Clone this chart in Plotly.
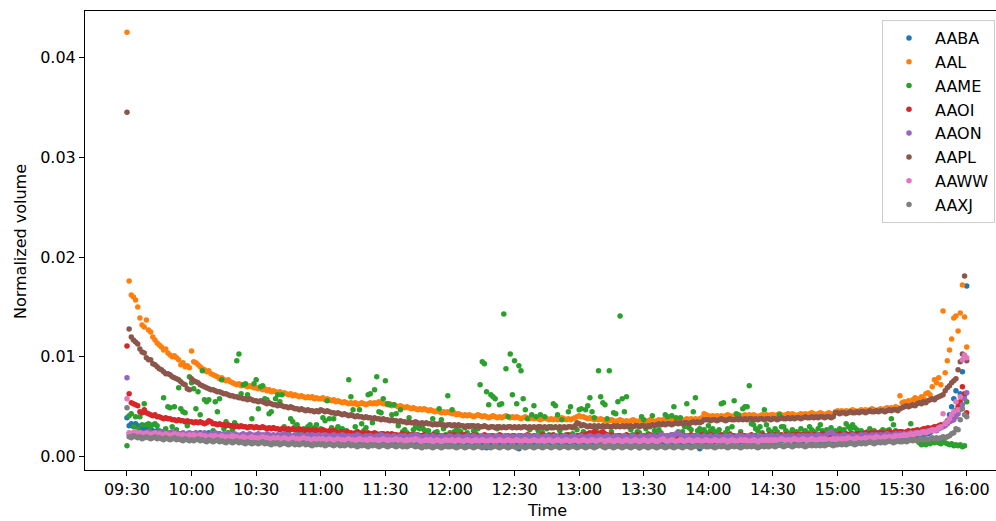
import numpy as np
import pandas as pd
import plotly.graph_objects as go

# one point per minute, 09:30 .. 16:00 (391 points)
times = pd.date_range("2019-01-02 09:30", "2019-01-02 16:00", freq="min")

# values, in units of 1e-4 (normalized volume)
UNIT = 1e-4

AABA = [
    39, 31, 33, 32, 33, 31, 30, 29, 28, 28, 27, 27, 26, 25, 26, 25, 24, 25, 24, 23, 24, 23, 24, 23, 22, 23, 22, 21, 22, 21,
    22, 23, 22, 23, 24, 23, 22, 23, 24, 22, 23, 22, 21, 23, 20, 21, 19, 20, 19, 18, 19, 20, 18, 19, 18, 17, 19, 18, 17, 18,
    18, 17, 18, 19, 17, 18, 16, 17, 18, 17, 16, 18, 17, 16, 17, 18, 16, 17, 16, 17, 18, 16, 17, 15, 16, 17, 16, 15, 17, 16,
    16, 17, 15, 16, 17, 16, 15, 16, 17, 15, 16, 15, 16, 17, 15, 16, 15, 14, 16, 15, 16, 15, 14, 15, 16, 15, 14, 15, 16, 15,
    15, 14, 15, 16, 15, 14, 15, 16, 14, 15, 14, 15, 16, 15, 14, 15, 14, 15, 16, 14, 15, 14, 15, 14, 16, 15, 14, 15, 14, 15,
    14, 15, 14, 15, 14, 15, 16, 14, 15, 14, 15, 14, 15, 13, 14, 12, 10, 9, 11, 14, 15, 14, 13, 15, 14, 15, 14, 13, 14, 15,
    14, 13, 8, 12, 14, 15, 14, 13, 14, 15, 14, 13, 14, 15, 14, 13, 14, 15, 13, 14, 15, 14, 13, 14, 15, 14, 13, 14, 15, 14,
    14, 15, 14, 13, 14, 15, 14, 13, 14, 15, 13, 14, 15, 14, 13, 14, 15, 14, 13, 14, 15, 14, 13, 14, 15, 14, 13, 14, 9, 13,
    14, 15, 14, 13, 14, 15, 14, 13, 14, 15, 14, 13, 14, 15, 14, 13, 14, 15, 14, 13, 14, 15, 14, 13, 14, 15, 8, 13, 14, 15,
    14, 15, 14, 15, 16, 15, 14, 15, 16, 15, 14, 15, 16, 15, 14, 15, 16, 15, 14, 15, 16, 15, 14, 15, 16, 15, 14, 15, 16, 15,
    15, 16, 15, 16, 17, 16, 15, 16, 17, 16, 15, 16, 17, 16, 15, 16, 17, 16, 15, 16, 17, 16, 15, 16, 17, 16, 15, 16, 17, 16,
    16, 17, 16, 17, 18, 17, 16, 17, 18, 17, 16, 17, 18, 17, 18, 17, 18, 19, 18, 17, 18, 19, 18, 19, 20, 19, 18, 19, 20, 19,
    20, 19, 20, 21, 20, 21, 22, 21, 22, 23, 22, 24, 23, 24, 28, 29, 30, 29, 31, 31, 33, 36, 42, 50, 58, 66, 54, 63, 85, 62,
    171,
]

AAL = [
    425, 176, 162, 160, 157, 150, 139, 132, 130, 137, 127, 125, 120, 117, 114, 112, 110, 107, 108, 104, 102, 100, 101, 99, 97, 92, 94, 90, 91, 89,
    106, 95, 94, 92, 90, 88, 87, 85, 86, 83, 82, 81, 80, 78, 79, 77, 76, 77, 75, 74, 73, 72, 73, 71, 72, 71, 70, 71, 70, 69,
    69, 68, 69, 67, 68, 66, 67, 65, 66, 65, 64, 65, 63, 64, 63, 62, 63, 61, 62, 61, 60, 61, 60, 59, 60, 59, 60, 58, 59, 58,
    58, 59, 57, 58, 57, 56, 57, 55, 56, 55, 54, 55, 54, 53, 54, 53, 54, 52, 53, 54, 53, 52, 53, 54, 53, 54, 53, 55, 54, 53,
    53, 52, 53, 51, 52, 51, 50, 51, 50, 49, 50, 49, 48, 49, 48, 47, 48, 47, 48, 47, 46, 47, 46, 45, 46, 45, 44, 45, 44, 45,
    44, 43, 44, 42, 43, 42, 41, 42, 41, 42, 41, 40, 41, 42, 41, 40, 41, 40, 39, 40, 41, 40, 39, 40, 39, 40, 41, 40, 39, 40,
    39, 40, 39, 38, 39, 40, 39, 38, 39, 38, 39, 38, 37, 38, 39, 38, 37, 38, 37, 38, 37, 38, 39, 38, 37, 38, 37, 38, 39, 40,
    41, 40, 40, 39, 38, 39, 38, 37, 38, 37, 38, 37, 36, 37, 36, 37, 36, 35, 36, 37, 36, 35, 36, 35, 36, 37, 36, 35, 36, 35,
    36, 35, 36, 37, 36, 35, 36, 37, 36, 37, 36, 37, 38, 37, 36, 37, 38, 37, 36, 37, 38, 37, 38, 37, 38, 37, 38, 39, 43, 42,
    41, 40, 41, 40, 41, 40, 41, 40, 41, 42, 41, 40, 41, 42, 41, 40, 41, 42, 41, 42, 41, 42, 41, 40, 41, 42, 41, 42, 41, 42,
    42, 41, 42, 43, 42, 41, 42, 43, 42, 43, 42, 41, 42, 43, 42, 43, 42, 43, 44, 43, 42, 43, 44, 43, 42, 43, 44, 43, 42, 45,
    46, 45, 46, 45, 46, 45, 46, 47, 46, 45, 46, 47, 46, 47, 46, 47, 48, 47, 46, 47, 48, 47, 48, 49, 48, 49, 48, 50, 49, 61,
    54, 55, 53, 56, 54, 57, 59, 56, 58, 60, 58, 63, 64, 62, 70, 77, 74, 79, 72, 146, 84, 96, 107, 118, 139, 141, 126, 144, 172, 140,
    110,
]

AAME = [
    11, 41, 43, 30, 40, 28, 40, 32, 53, 32, 33, 30, 32, 33, 31, 26, 24, 59, 28, 50, 49, 30, 50, 27, 69, 48, 45, 44, 31, 80,
    74, 68, 48, 65, 42, 86, 57, 55, 57, 22, 26, 55, 45, 58, 77, 28, 35, 24, 31, 27, 34, 96, 103, 63, 72, 73, 62, 30, 38, 73,
    77, 48, 70, 71, 58, 57, 43, 45, 29, 58, 62, 55, 62, 30, 27, 25, 38, 35, 30, 32, 24, 26, 28, 22, 30, 32, 25, 29, 32, 24,
    28, 39, 36, 56, 38, 29, 38, 27, 30, 24, 28, 22, 26, 77, 60, 47, 30, 25, 47, 33, 26, 29, 62, 63, 34, 67, 80, 45, 44, 58,
    76, 53, 52, 42, 52, 43, 31, 47, 25, 27, 24, 39, 22, 27, 31, 29, 28, 30, 27, 23, 26, 21, 38, 24, 25, 48, 37, 28, 22, 61,
    24, 47, 25, 27, 26, 25, 22, 29, 24, 31, 21, 26, 23, 28, 72, 95, 93, 65, 52, 62, 60, 58, 28, 52, 53, 143, 88, 40, 103, 62,
    96, 53, 91, 86, 58, 47, 38, 27, 42, 51, 40, 26, 42, 24, 40, 28, 22, 30, 53, 51, 42, 26, 37, 29, 22, 45, 50, 23, 31, 27,
    47, 48, 25, 47, 51, 59, 45, 39, 28, 86, 60, 54, 52, 38, 86, 25, 44, 43, 55, 141, 58, 45, 60, 30, 27, 22, 31, 25, 24, 40,
    37, 28, 23, 30, 41, 26, 22, 27, 24, 21, 42, 40, 20, 41, 50, 39, 25, 39, 25, 30, 53, 29, 27, 45, 59, 26, 28, 24, 27, 24,
    31, 26, 28, 25, 23, 27, 53, 54, 24, 28, 23, 30, 56, 43, 42, 25, 48, 50, 50, 71, 33, 32, 28, 26, 30, 24, 47, 32, 27, 25,
    23, 28, 25, 42, 30, 30, 26, 24, 23, 27, 23, 25, 23, 28, 23, 26, 24, 30, 27, 25, 23, 28, 32, 26, 24, 27, 25, 29, 24, 26,
    23, 28, 25, 27, 33, 30, 28, 32, 29, 27, 24, 26, 22, 23, 25, 28, 23, 26, 22, 24, 25, 27, 24, 26, 27, 38, 32, 26, 23, 25,
    22, 24, 21, 23, 33, 20, 18, 16, 14, 12, 13, 12, 14, 13, 15, 14, 15, 14, 13, 15, 14, 13, 12, 13, 11, 12, 11, 12, 10, 11,
    55,
]

AAOI = [
    111, 63, 54, 53, 52, 51, 45, 44, 47, 44, 43, 42, 41, 42, 40, 40, 39, 38, 39, 38, 38, 37, 37, 36, 37, 36, 36, 35, 36, 35,
    35, 34, 35, 34, 35, 34, 33, 34, 36, 35, 33, 33, 32, 33, 32, 32, 31, 32, 31, 31, 30, 31, 30, 31, 30, 30, 29, 30, 30, 29,
    30, 29, 29, 30, 29, 28, 29, 28, 29, 28, 28, 27, 28, 28, 27, 28, 27, 28, 27, 27, 28, 27, 26, 27, 27, 26, 27, 26, 27, 26,
    26, 27, 26, 25, 26, 25, 26, 25, 24, 25, 25, 24, 25, 24, 24, 23, 24, 25, 24, 23, 24, 23, 24, 23, 23, 24, 23, 22, 23, 23,
    22, 23, 22, 23, 22, 22, 21, 22, 23, 22, 21, 22, 21, 22, 21, 22, 21, 21, 22, 21, 20, 21, 22, 21, 20, 21, 21, 20, 21, 20,
    22, 21, 22, 21, 21, 22, 21, 22, 21, 20, 21, 22, 21, 21, 20, 21, 22, 21, 20, 21, 21, 20, 21, 22, 21, 20, 21, 21, 20, 21,
    21, 20, 21, 21, 20, 21, 22, 21, 20, 21, 21, 20, 21, 22, 21, 20, 21, 21, 22, 21, 20, 21, 21, 20, 21, 22, 21, 21, 20, 21,
    21, 22, 21, 22, 23, 24, 23, 25, 24, 23, 24, 25, 23, 22, 21, 22, 21, 20, 21, 21, 20, 21, 22, 21, 20, 21, 21, 22, 21, 20,
    21, 20, 21, 22, 21, 21, 20, 21, 22, 21, 20, 21, 21, 22, 21, 20, 21, 22, 21, 21, 20, 21, 22, 21, 21, 20, 21, 22, 21, 21,
    21, 22, 21, 20, 21, 21, 22, 21, 20, 21, 22, 21, 21, 20, 21, 22, 21, 21, 20, 21, 22, 21, 21, 20, 21, 22, 21, 21, 22, 21,
    21, 22, 21, 21, 22, 21, 22, 21, 21, 22, 21, 22, 22, 21, 22, 21, 22, 22, 21, 22, 22, 21, 22, 23, 22, 21, 22, 23, 22, 22,
    22, 23, 22, 22, 23, 22, 23, 23, 22, 23, 23, 22, 23, 24, 23, 23, 24, 23, 24, 23, 24, 24, 23, 24, 25, 24, 24, 25, 24, 25,
    25, 24, 25, 26, 25, 26, 26, 27, 26, 27, 28, 28, 29, 28, 29, 30, 29, 31, 32, 31, 33, 35, 37, 40, 43, 46, 50, 55, 70, 63,
    44,
]

AAON = [
    79, 23, 22, 24, 23, 22, 23, 24, 22, 23, 25, 24, 23, 22, 24, 23, 25, 24, 23, 22, 24, 25, 23, 24, 22, 23, 24, 22, 23, 24,
    23, 22, 24, 23, 22, 23, 24, 22, 21, 23, 22, 24, 23, 22, 21, 23, 22, 23, 21, 22, 23, 22, 21, 22, 23, 21, 22, 23, 22, 21,
    22, 23, 21, 22, 21, 23, 22, 21, 22, 20, 22, 21, 22, 23, 21, 22, 20, 21, 22, 21, 20, 22, 21, 20, 22, 21, 22, 20, 21, 22,
    21, 20, 22, 21, 20, 21, 22, 20, 21, 20, 22, 21, 20, 21, 19, 21, 20, 22, 21, 20, 19, 21, 20, 21, 20, 19, 21, 20, 22, 21,
    20, 21, 19, 20, 21, 20, 19, 21, 20, 21, 19, 20, 21, 20, 22, 21, 20, 19, 20, 21, 20, 19, 21, 20, 19, 20, 21, 20, 19, 20,
    21, 20, 19, 20, 21, 20, 19, 20, 21, 19, 20, 21, 20, 19, 20, 21, 20, 19, 21, 20, 19, 20, 21, 20, 19, 20, 21, 20, 19, 20,
    20, 19, 21, 20, 19, 20, 21, 20, 19, 20, 21, 20, 19, 20, 20, 21, 20, 19, 20, 21, 20, 19, 20, 21, 20, 19, 20, 21, 20, 19,
    20, 21, 20, 19, 20, 21, 20, 19, 20, 21, 20, 19, 20, 21, 20, 19, 20, 21, 20, 19, 20, 21, 20, 19, 20, 21, 20, 19, 20, 21,
    20, 19, 20, 21, 20, 21, 19, 20, 22, 21, 20, 21, 20, 22, 21, 23, 24, 22, 21, 20, 21, 19, 20, 21, 20, 21, 20, 19, 21, 20,
    20, 21, 19, 20, 21, 20, 20, 19, 21, 20, 21, 20, 19, 20, 21, 21, 20, 19, 20, 21, 20, 21, 19, 20, 21, 20, 19, 21, 20, 21,
    21, 20, 21, 20, 19, 21, 20, 21, 20, 21, 20, 19, 21, 20, 21, 20, 21, 20, 21, 20, 21, 22, 21, 20, 21, 22, 24, 25, 23, 21,
    21, 20, 21, 22, 21, 20, 21, 22, 21, 20, 21, 22, 21, 22, 21, 20, 22, 21, 22, 21, 22, 21, 22, 23, 22, 21, 22, 23, 22, 23,
    22, 23, 22, 23, 24, 23, 24, 23, 24, 25, 24, 25, 26, 25, 26, 27, 26, 28, 29, 30, 31, 33, 35, 36, 37, 40, 43, 47, 52, 58,
    64,
]

AAPL = [
    345, 128, 120, 117, 115, 113, 108, 105, 104, 99, 97, 97, 93, 92, 90, 88, 87, 85, 83, 83, 82, 80, 79, 78, 77, 75, 73, 72, 68, 67,
    78, 76, 75, 74, 72, 71, 70, 69, 68, 67, 67, 66, 65, 65, 64, 63, 63, 62, 61, 61, 60, 60, 59, 59, 58, 58, 57, 58, 57, 56,
    56, 55, 56, 55, 54, 53, 54, 53, 52, 52, 51, 52, 51, 50, 50, 49, 50, 49, 48, 48, 47, 48, 47, 46, 47, 46, 46, 45, 46, 45,
    47, 46, 45, 46, 45, 44, 44, 43, 44, 43, 42, 43, 42, 41, 42, 41, 40, 41, 40, 40, 39, 40, 39, 39, 38, 39, 38, 38, 37, 38,
    37, 37, 36, 37, 36, 36, 35, 36, 35, 35, 34, 35, 34, 34, 35, 34, 33, 34, 33, 34, 33, 33, 32, 33, 32, 33, 32, 32, 31, 32,
    32, 31, 32, 31, 32, 31, 31, 30, 31, 30, 31, 31, 30, 31, 30, 30, 31, 30, 29, 30, 30, 29, 30, 30, 29, 30, 29, 30, 30, 29,
    30, 29, 30, 29, 30, 30, 29, 30, 29, 30, 29, 30, 30, 29, 30, 29, 30, 29, 29, 30, 29, 30, 29, 30, 29, 30, 30, 29, 30, 34,
    33, 31, 32, 31, 30, 31, 30, 31, 30, 31, 30, 31, 30, 31, 30, 30, 31, 30, 31, 30, 31, 30, 31, 30, 31, 30, 31, 31, 30, 31,
    31, 30, 31, 31, 32, 31, 32, 33, 32, 33, 32, 33, 33, 32, 33, 34, 33, 34, 33, 34, 34, 33, 34, 35, 34, 35, 34, 35, 37, 37,
    37, 36, 37, 37, 36, 37, 38, 37, 36, 37, 38, 37, 37, 38, 37, 38, 37, 38, 37, 38, 38, 37, 38, 37, 38, 38, 37, 38, 38, 37,
    38, 38, 37, 38, 39, 38, 38, 39, 38, 39, 38, 39, 39, 38, 39, 40, 39, 39, 40, 39, 40, 39, 40, 40, 39, 40, 40, 39, 40, 44,
    44, 43, 44, 44, 43, 44, 45, 44, 44, 45, 44, 45, 45, 44, 45, 46, 45, 45, 46, 45, 46, 46, 45, 46, 47, 46, 47, 47, 46, 48,
    49, 50, 51, 50, 51, 52, 51, 53, 54, 53, 55, 54, 56, 57, 58, 57, 59, 60, 61, 62, 66, 69, 71, 74, 76, 78, 87, 95, 103, 181,
    96,
]

AAWW = [
    58, 24, 23, 24, 25, 23, 24, 22, 23, 24, 23, 22, 23, 24, 22, 23, 22, 21, 23, 22, 21, 22, 23, 21, 22, 21, 22, 20, 21, 22,
    21, 22, 20, 21, 22, 20, 21, 20, 19, 21, 20, 21, 19, 20, 21, 19, 20, 19, 20, 21, 19, 20, 18, 19, 20, 19, 18, 19, 20, 18,
    19, 18, 19, 20, 18, 19, 18, 17, 19, 18, 19, 17, 18, 19, 18, 17, 18, 19, 17, 18, 17, 18, 19, 17, 18, 17, 16, 18, 17, 18,
    17, 18, 16, 17, 18, 17, 16, 17, 18, 16, 17, 16, 17, 18, 16, 17, 16, 17, 18, 17, 16, 17, 16, 18, 17, 16, 17, 16, 17, 18,
    17, 16, 17, 16, 17, 18, 16, 17, 16, 15, 17, 16, 17, 16, 18, 17, 16, 15, 16, 17, 16, 17, 15, 16, 17, 16, 15, 16, 17, 16,
    16, 17, 15, 16, 17, 16, 15, 16, 17, 16, 15, 16, 17, 15, 16, 17, 16, 15, 16, 17, 16, 15, 16, 17, 16, 15, 16, 17, 16, 15,
    16, 17, 16, 15, 16, 17, 16, 15, 16, 17, 16, 15, 16, 17, 15, 16, 17, 16, 15, 16, 17, 16, 15, 16, 17, 16, 15, 16, 17, 16,
    15, 16, 17, 16, 15, 16, 17, 16, 15, 16, 17, 16, 15, 16, 17, 16, 15, 16, 17, 16, 15, 16, 17, 16, 15, 16, 17, 16, 15, 16,
    17, 16, 15, 16, 17, 16, 15, 16, 17, 18, 16, 15, 16, 17, 16, 15, 16, 17, 16, 15, 16, 17, 16, 15, 16, 17, 16, 15, 16, 17,
    16, 15, 16, 17, 16, 15, 16, 17, 16, 15, 16, 17, 16, 15, 16, 17, 16, 17, 16, 15, 16, 17, 16, 15, 16, 17, 16, 17, 16, 17,
    16, 17, 16, 17, 18, 17, 16, 17, 16, 17, 18, 17, 16, 17, 18, 17, 16, 17, 18, 17, 16, 17, 18, 17, 18, 17, 16, 17, 18, 17,
    18, 17, 18, 17, 18, 19, 18, 17, 18, 19, 18, 17, 18, 19, 18, 19, 18, 19, 20, 19, 18, 19, 20, 19, 20, 19, 20, 21, 20, 21,
    21, 22, 21, 22, 23, 22, 23, 24, 23, 24, 25, 24, 25, 26, 27, 26, 27, 29, 30, 43, 33, 35, 38, 42, 45, 55, 47, 60, 97, 102,
    99,
]

AAXJ = [
    49, 20, 19, 21, 20, 19, 20, 18, 19, 20, 19, 18, 19, 20, 18, 19, 18, 17, 19, 18, 17, 18, 19, 17, 18, 17, 16, 18, 17, 16,
    17, 16, 17, 18, 16, 17, 16, 15, 17, 16, 15, 16, 17, 15, 16, 15, 14, 16, 15, 14, 15, 16, 14, 15, 14, 13, 15, 14, 13, 14,
    14, 13, 14, 15, 13, 14, 13, 12, 14, 13, 14, 12, 13, 14, 13, 12, 13, 14, 12, 13, 12, 13, 14, 12, 13, 12, 11, 13, 12, 13,
    12, 13, 11, 12, 13, 12, 11, 12, 13, 11, 12, 11, 12, 13, 11, 12, 11, 10, 12, 11, 12, 11, 10, 12, 11, 12, 11, 10, 11, 12,
    11, 10, 11, 12, 11, 10, 11, 12, 10, 11, 10, 11, 12, 11, 10, 11, 10, 9, 11, 10, 11, 10, 9, 10, 11, 10, 9, 10, 11, 10,
    10, 11, 10, 9, 10, 11, 10, 9, 10, 11, 10, 9, 10, 11, 10, 9, 10, 11, 10, 9, 10, 11, 10, 9, 10, 11, 10, 9, 10, 11,
    10, 9, 10, 11, 10, 9, 10, 11, 10, 9, 10, 11, 10, 9, 10, 11, 10, 9, 10, 11, 10, 9, 10, 11, 10, 9, 10, 11, 10, 9,
    10, 11, 10, 9, 10, 11, 10, 9, 10, 11, 12, 10, 9, 10, 11, 10, 9, 10, 11, 10, 9, 10, 11, 10, 9, 10, 11, 10, 9, 10,
    11, 10, 9, 10, 11, 10, 9, 10, 11, 10, 9, 10, 11, 10, 9, 10, 11, 10, 9, 10, 11, 10, 9, 10, 11, 10, 11, 10, 11, 10,
    10, 11, 10, 9, 10, 11, 10, 11, 10, 9, 10, 11, 10, 11, 10, 9, 10, 11, 10, 11, 10, 11, 10, 9, 10, 11, 10, 11, 10, 11,
    11, 10, 11, 12, 11, 10, 11, 12, 11, 10, 11, 12, 11, 12, 11, 10, 11, 12, 11, 12, 11, 12, 11, 12, 11, 12, 13, 12, 11, 12,
    12, 13, 12, 13, 12, 13, 14, 13, 12, 13, 14, 13, 14, 13, 14, 15, 14, 13, 14, 15, 14, 15, 14, 15, 16, 15, 14, 15, 16, 15,
    15, 16, 15, 16, 17, 16, 17, 16, 17, 18, 17, 18, 17, 18, 19, 18, 19, 18, 19, 20, 19, 20, 21, 23, 24, 28, 27, 37, 48, 42,
    40,
]

tickers = ["AABA", "AAL", "AAME", "AAOI", "AAON", "AAPL", "AAWW", "AAXJ"]
values = [AABA, AAL, AAME, AAOI, AAON, AAPL, AAWW, AAXJ]
colors = ["#1f77b4", "#ff7f0e", "#2ca02c", "#d62728", "#9467bd", "#8c564b", "#e377c2", "#7f7f7f"]

fig = go.Figure()
for name, vals, col in zip(tickers, values, colors):
    assert len(vals) == len(times), (name, len(vals))
    fig.add_trace(go.Scatter(
        x=times, y=np.array(vals) * UNIT, mode="markers", name=name,
        marker=dict(color=col, size=5.5, line=dict(width=0)),
    ))

fig.update_layout(
    width=996, height=521,
    margin=dict(l=85, r=0, t=11, b=51),
    paper_bgcolor="white", plot_bgcolor="white",
    font=dict(family="DejaVu Sans", size=16, color="black"),
    legend=dict(
        x=0.9989, y=0.9804, xanchor="right", yanchor="top",
        bgcolor="rgba(255,255,255,0.8)", bordercolor="#cccccc", borderwidth=1,
        font=dict(size=16), itemwidth=42,
    ),
    annotations=[
        dict(text="Time", xref="paper", yref="paper", x=0.507, y=-0.0893,
             xanchor="center", yanchor="middle", showarrow=False, font=dict(size=16)),
        dict(text="Normalized volume", xref="paper", yref="paper", x=-0.0713, y=0.4967,
             xanchor="center", yanchor="middle", textangle=-90, showarrow=False, font=dict(size=16)),
    ],
)
fig.update_xaxes(
    range=["2019-01-02 09:10:30", "2019-01-02 16:13:36"],
    tick0="2019-01-02 09:30", dtick=30 * 60 * 1000, tickformat="%H:%M",
    showline=True, linecolor="black", linewidth=1, mirror=True,
    ticks="outside", ticklen=5, tickcolor="black", tickwidth=1,
    showgrid=False, zeroline=False,
)
fig.update_yaxes(
    range=[-0.00133, 0.04464],
    tickvals=[0, 0.01, 0.02, 0.03, 0.04], tickformat=".2f",
    showline=True, linecolor="black", linewidth=1, mirror=False,
    ticks="outside", ticklen=5, tickcolor="black", tickwidth=1,
    showgrid=False, zeroline=False,
)

fig.write_html("out.html", config={"displayModeBar": False},
               post_script="document.body.style.margin='0px';")
